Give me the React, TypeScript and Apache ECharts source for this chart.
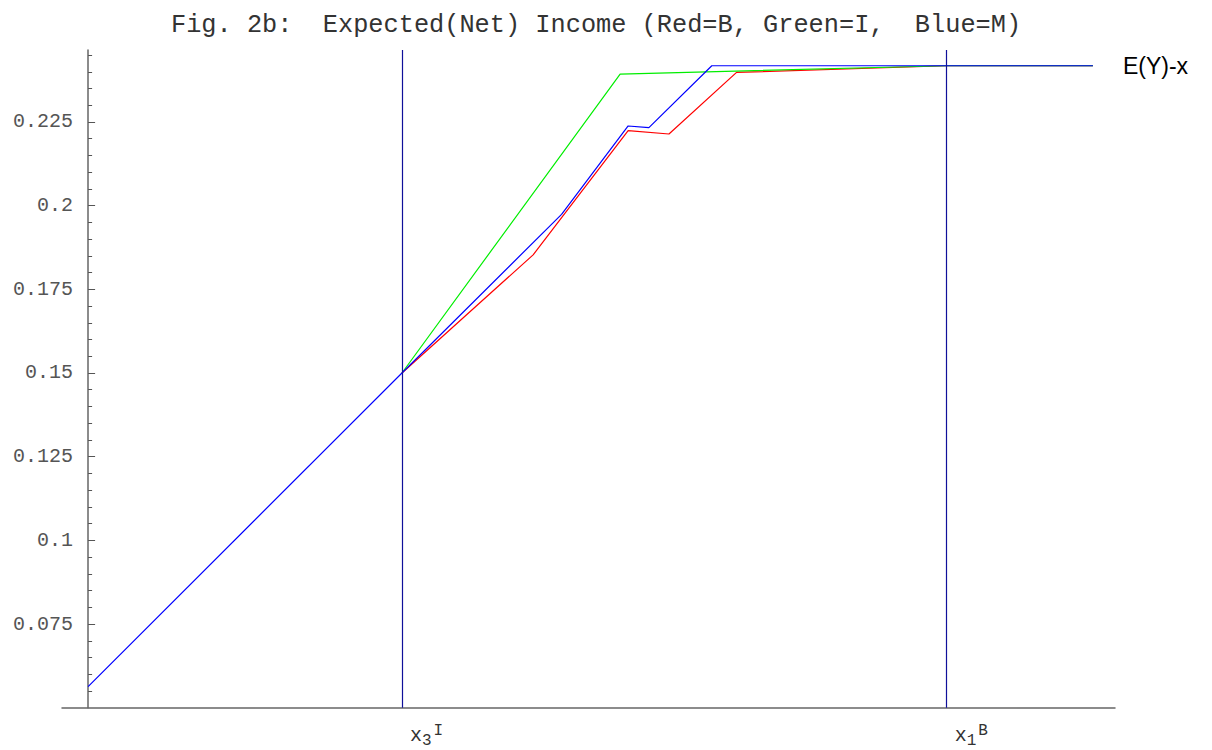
import React, { useEffect, useRef } from "react";
import * as echarts from "echarts";

const TITLE = "Fig. 2b:  Expected(Net) Income (Red=B, Green=I,  Blue=M)";
const CURVE_LABEL = "E(Y)-x";

// x positions of the two marked thresholds
const xTickValues = [0.0938, 0.2566];
const xTickSub = ["3", "1"];
const xTickSup = ["I", "B"];

// y-axis tick labels
const yTickValues = [0.075, 0.1, 0.125, 0.15, 0.175, 0.2, 0.225];

// Red = B (coincides with Blue left of x3^I)
const redX = [0.0938, 0.133, 0.1614, 0.1736, 0.1938, 0.2566, 0.3003];
const redY = [0.15, 0.1853, 0.2224, 0.2214, 0.2398, 0.2418, 0.2418];
// Green = I (coincides with Blue left of x3^I)
const greenX = [0.0938, 0.159, 0.2566, 0.3003];
const greenY = [0.15, 0.2393, 0.2418, 0.2418];
// Blue = M
const blueX = [0, 0.0938, 0.1415, 0.1614, 0.1676, 0.1864, 0.3003];
const blueY = [0.0563, 0.15, 0.1974, 0.2238, 0.2233, 0.2418, 0.2418];

const zip = (xs: number[], ys: number[]) => xs.map((x, i) => [x, ys[i]]);

const MONO = "Liberation Mono, Courier New, monospace";

export default function App() {
  const ref = useRef<HTMLDivElement>(null);
  useEffect(() => {
    if (!ref.current) return;
    const chart = echarts.init(ref.current, null, { renderer: "svg" });
    const lineCommon = {
      type: "line" as const,
      showSymbol: false,
      symbol: "none",
      silent: true,
    };
    chart.setOption({
      animation: false,
      backgroundColor: "#ffffff",
      title: {
        text: TITLE,
        left: 166,
        top: 8,
        textStyle: {
          fontFamily: MONO,
          fontSize: 25.3,
          fontWeight: "normal",
          color: "#333333",
        },
      },
      grid: {
        left: 62,
        right: 97,
        top: 50,
        bottom: 42.3,
        containLabel: false,
        outerBoundsMode: "none",
      },
      xAxis: {
        type: "value",
        min: -0.0078,
        max: 0.3069,
        splitLine: { show: false },
        axisLine: { show: true, onZero: false, lineStyle: { color: "#666666", width: 1.5 } },
        axisTick: { show: false },
        axisLabel: {
          show: true,
          customValues: xTickValues,
          align: "left",
          margin: 15,
          formatter: (v: number) => {
            const i = xTickValues.findIndex((t) => Math.abs(t - v) < 1e-6);
            if (i < 0) return "";
            return `{x|x}{s|${xTickSub[i]}}{p|${xTickSup[i]}}`;
          },
          rich: {
            x: { fontFamily: MONO, fontSize: 20, color: "#333333", lineHeight: 26, padding: [0, 0, 0, 8] },
            s: { fontFamily: MONO, fontSize: 16, color: "#333333", lineHeight: 16, verticalAlign: "bottom" },
            p: { fontFamily: MONO, fontSize: 16, color: "#333333", lineHeight: 16, verticalAlign: "top", padding: [0, 0, 0, 2] },
          },
        },
      },
      yAxis: {
        type: "value",
        min: 0.05,
        max: 0.2465,
        interval: 0.025,
        splitLine: { show: false },
        axisLine: { show: true, onZero: true, lineStyle: { color: "#666666", width: 1.5 } },
        axisTick: {
          show: true,
          inside: true,
          length: 7,
          customValues: yTickValues,
          lineStyle: { color: "#555555", width: 1 },
        },
        minorTick: { show: true, splitNumber: 5, length: 4, lineStyle: { color: "#555555", width: 1 } },
        axisLabel: {
          show: true,
          customValues: yTickValues,
          margin: -11,
          fontFamily: MONO,
          fontSize: 20,
          color: "#555555",
          formatter: (v: number) => String(v),
        },
      },
      series: [
        {
          ...lineCommon,
          name: "B",
          data: zip(redX, redY),
          lineStyle: { color: "#ff0000", width: 1.2 },
          z: 2,
        },
        {
          ...lineCommon,
          name: "I",
          data: zip(greenX, greenY),
          lineStyle: { color: "#00ee00", width: 1.2 },
          z: 3,
        },
        {
          ...lineCommon,
          name: "M",
          data: zip(blueX, blueY),
          lineStyle: { color: "#0000ff", width: 1.2 },
          z: 4,
          endLabel: {
            show: true,
            formatter: CURVE_LABEL,
            distance: 30,
            fontFamily: "Liberation Sans, Arial, sans-serif",
            fontSize: 23,
            color: "#000000",
          },
          markLine: {
            silent: true,
            symbol: "none",
            precision: 6,
            label: { show: false },
            lineStyle: { color: "#10109a", width: 1.2, type: "solid" },
            data: xTickValues.map((v) => ({ xAxis: v })),
          },
        },
      ],
    });
    return () => chart.dispose();
  }, []);
  return (
    <div
      ref={ref}
      style={{ position: "fixed", left: 0, top: 0, width: 1212, height: 750, background: "#fff" }}
    />
  );
}
